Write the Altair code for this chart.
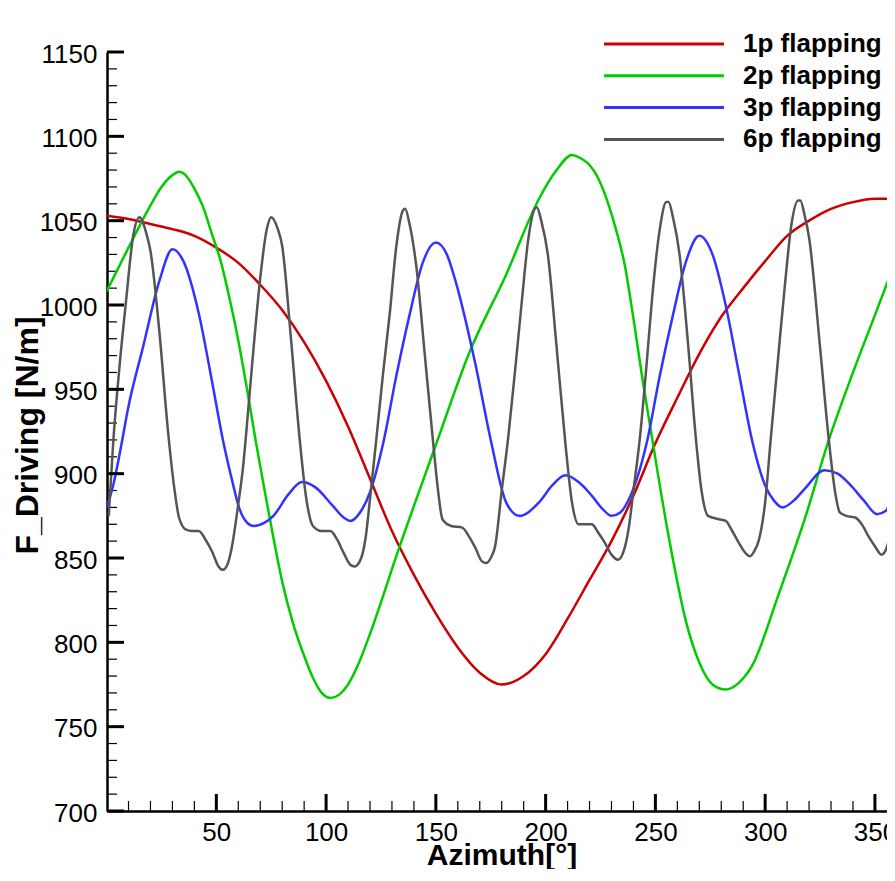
import altair as alt
import pandas as pd

# ---- data ----
names = ["1p flapping", "2p flapping", "3p flapping", "6p flapping"]
colors = ["#cc0000", "#00cc00", "#3333ff", "#555555"]

red_x = [0, 10, 20, 30, 40, 50, 60, 70, 80, 90, 100, 110, 120, 130, 140, 150, 160, 170, 180,
         190, 200, 210, 220, 230, 240, 250, 260, 270, 280, 290, 300, 310, 320, 330, 340, 350, 360]
red_y = [1053, 1051, 1048, 1045, 1041, 1034, 1025, 1012, 997, 978, 955, 928, 897, 866, 840, 817,
         797, 782, 775, 780, 793, 814, 837, 860, 887, 918, 945, 971, 993, 1010, 1026, 1041, 1050,
         1057, 1061, 1063, 1063]

green_x = [0, 10, 20, 25, 30, 33, 36, 40, 44, 48, 52, 56, 60, 64, 68, 72, 76, 80, 85, 90, 94, 98,
           102, 106, 110, 115, 120, 133, 150, 165, 182, 197, 205, 212, 216, 220, 224, 228, 232,
           236, 240, 244, 248, 256, 264, 270, 276, 282, 288, 294, 306, 318, 329, 340, 350, 360]
green_y = [1008, 1034, 1059, 1070, 1077, 1079, 1077, 1069, 1058, 1042, 1026, 1004, 979, 950, 919,
           890, 862, 836, 811, 792, 779, 770, 767, 769, 775, 788, 805, 855, 917, 971, 1018, 1063,
           1080, 1089, 1087, 1083, 1075, 1062, 1045, 1024, 992, 957, 925, 863, 812, 788, 775, 772,
           776, 786, 828, 873, 920, 960, 994, 1028]

blue_x = [0, 3, 6, 10, 16.6, 24, 30, 35, 42, 48, 53, 57, 60.6, 64, 67, 72, 76, 83, 89, 95, 103,
          108, 111, 116, 120, 126, 132, 138, 144, 150, 155, 159, 168, 175, 182, 188, 197, 203, 209,
          215, 221, 226, 230, 234, 238, 246, 252, 258, 264, 270, 276, 282, 288, 294, 300, 304, 308,
          313, 318, 327, 333, 339, 345, 351, 355, 358]
blue_y = [880, 893, 912, 940, 975, 1014, 1033, 1026, 995, 955, 920, 897, 879, 871, 869, 871, 875,
          888, 895, 892, 881, 874, 872, 878, 889, 918, 958, 994, 1025, 1037, 1030, 1014, 965, 920,
          883, 875, 883, 893, 899, 895, 887, 879, 875, 877, 885, 918, 958, 994, 1026, 1041, 1030,
          1000, 960, 920, 893, 884, 880, 884, 891, 902, 900, 893, 884, 876, 878, 889]

gray_x = [1, 3, 6, 9, 12, 15, 18, 20, 24, 28, 31, 33, 36, 39, 42, 45, 48, 51, 53, 55, 57, 60, 62,
          65, 67, 70, 73, 75, 78, 80, 84, 88, 91, 94, 98, 102, 105, 108, 111, 113, 116, 118, 120,
          123, 126, 129, 132, 135, 136, 138, 141, 145, 148.5, 151, 153, 157, 162, 165, 168, 171,
          173, 175, 177, 180, 183, 186, 189, 192, 195, 196, 198, 201, 205, 209, 212, 215, 221, 224,
          227, 230, 233, 236, 238, 240, 243, 246, 248.5, 252, 255, 256, 258, 261, 265, 268.5, 271,
          274, 279, 282, 285, 288, 291, 293, 295, 297, 300, 302.5, 306, 309, 312, 315, 316, 318,
          320, 325, 329, 332, 334, 337, 341, 344, 347, 350, 353, 355, 357, 358, 360]
gray_y = [875, 918, 965, 1004, 1040, 1052, 1043, 1032, 985, 925, 890, 874, 867, 866, 866, 861,
          854, 845, 843, 846, 856, 882, 902, 945, 975, 1016, 1045, 1052, 1045, 1035, 980, 920, 885,
          869, 866, 866, 861, 853, 846, 845, 850, 862, 885, 922, 960, 995, 1035, 1056, 1057, 1048,
          1024, 970, 922, 890, 873, 869, 868, 863, 856, 848, 847, 850, 857, 890, 922, 960, 1000,
          1038, 1057, 1058, 1050, 1030, 975, 918, 883, 870, 870, 865, 859, 852, 849, 856, 869, 890,
          922, 965, 1004, 1045, 1061, 1061, 1052, 1030, 975, 920, 890, 875, 873, 872, 866, 859, 853,
          851, 854, 860, 883, 920, 970, 1012, 1048, 1062, 1062, 1053, 1040, 975, 920, 888, 877,
          875, 874, 870, 863, 857, 852, 855, 866, 878, 895]

x_major = [50, 100, 150, 200, 250, 300, 350]
x_minor = [v for v in range(10, 351, 10) if v % 50 != 0]
y_major = [700, 750, 800, 850, 900, 950, 1000, 1050, 1100, 1150]
y_minor = [v for v in range(710, 1150, 10) if v % 50 != 0]

# ---- build table ----
rows = []
for name, xs, ys in zip(names, [red_x, green_x, blue_x, gray_x], [red_y, green_y, blue_y, gray_y]):
    for a, f in zip(xs, ys):
        rows.append({"series": name, "azimuth": a, "force": f})
df = pd.DataFrame(rows)

W, H = 780, 759
FONT = "Liberation Sans"
xscale = alt.Scale(domain=[0.2, 355.5], nice=False, zero=False)
yscale = alt.Scale(domain=[700, 1150], nice=False, zero=False)
cscale = alt.Scale(domain=names, range=colors)

xaxis = alt.Axis(values=x_major, format="d", ticks=False, tickSize=0, grid=False, domainWidth=2.5,
                 domainColor="black", labelFontSize=26, labelFont=FONT, labelColor="black",
                 labelPadding=8, labelFlush=False, labelOverlap=False,
                 title="Azimuth[°]", titleFont=FONT, titleFontSize=30, titleFontWeight="bold",
                 titleColor="black", titleX=394.5, titleY=53, titleBaseline="alphabetic",
                 titleAlign="center")
yaxis = alt.Axis(values=y_major, format="d", ticks=False, tickSize=0, grid=False, domainWidth=2.5,
                 domainColor="black", labelFontSize=26, labelFont=FONT, labelColor="black",
                 labelPadding=10, labelOffset=2, labelFlush=False, labelOverlap=False,
                 title="F_Driving [N/m]", titleFont=FONT, titleFontSize=32,
                 titleFontWeight="bold", titleColor="black", titleX=-80, titleY=383,
                 titleAngle=270, titleBaseline="middle", titleAlign="center")

X = alt.X("azimuth:Q", scale=xscale, axis=xaxis)
Y = alt.Y("force:Q", scale=yscale, axis=yaxis)

lines = alt.Chart(df).mark_line(strokeWidth=2.5, clip=True, interpolate="monotone").encode(
    x=X, y=Y,
    color=alt.Color("series:N", scale=cscale, legend=None),
    detail="series:N",
)

xmaj = alt.Chart(pd.DataFrame({"azimuth": x_major})).mark_rule(color="black", strokeWidth=3).encode(
    x=X, y=alt.value(H), y2=alt.value(H - 17))
xmin = alt.Chart(pd.DataFrame({"azimuth": x_minor})).mark_rule(color="black", strokeWidth=1.2).encode(
    x=X, y=alt.value(H), y2=alt.value(H - 10))
ymaj = alt.Chart(pd.DataFrame({"force": y_major})).mark_rule(color="black", strokeWidth=3).encode(
    y=Y, x=alt.value(0), x2=alt.value(17))
ymin = alt.Chart(pd.DataFrame({"force": y_minor})).mark_rule(color="black", strokeWidth=1.2).encode(
    y=Y, x=alt.value(0), x2=alt.value(10))

leg_df = pd.DataFrame({"series": names, "idx": list(range(len(names)))})
leg_base = alt.Chart(leg_df).transform_calculate(ly="datum.idx * 31.8 - 8")
leg_lines = leg_base.mark_rule(strokeWidth=3).encode(
    y=alt.Y("ly:Q", scale=None),
    x=alt.value(497), x2=alt.value(617),
    color=alt.Color("series:N", scale=cscale, legend=None),
)
leg_text = leg_base.mark_text(align="left", baseline="middle", fontSize=26, fontWeight="bold",
                              font=FONT, color="black").encode(
    y=alt.Y("ly:Q", scale=None),
    x=alt.value(636),
    text="series:N",
)

chart = alt.layer(xmin, ymin, lines, xmaj, ymaj, leg_lines, leg_text).properties(
    width=W, height=H,
    autosize=alt.AutoSizeParams(type="none"),
    padding={"left": 99, "top": 44, "right": 0, "bottom": 58},
    background="white",
).configure_view(stroke=None)

chart.save("out.html", embed_options={"renderer": "svg", "actions": False})
